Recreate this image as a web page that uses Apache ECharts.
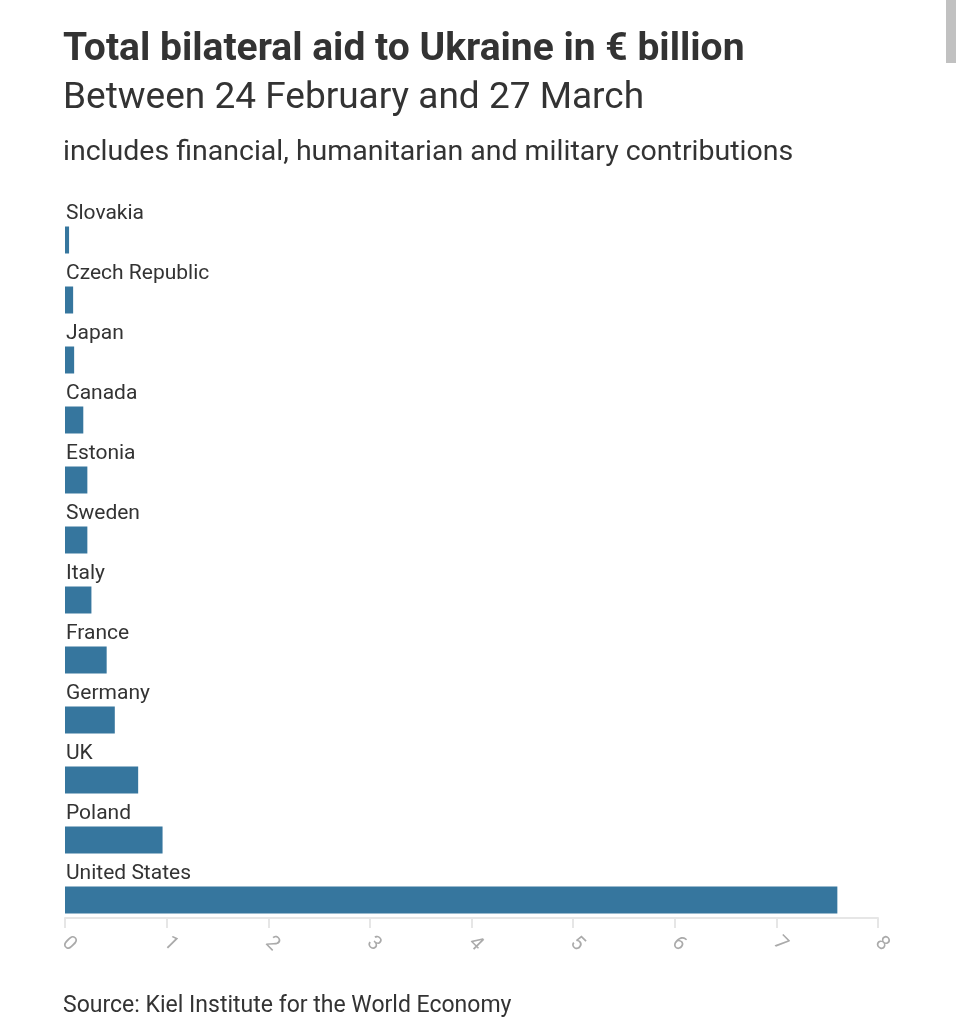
<!DOCTYPE html>
<html>
<head>
<meta charset="utf-8">
<script src="https://cdn.jsdelivr.net/npm/echarts@6/dist/echarts.min.js"></script>
<style>
  html, body { margin: 0; padding: 0; background: #fff; }
  #chart { width: 956px; height: 1024px; }
</style>
</head>
<body>
<div id="chart"></div>
<script>
// values in € billion, 24 Feb - 27 Mar
const countries = [
  'Slovakia',
  'Czech Republic',
  'Japan',
  'Canada',
  'Estonia',
  'Sweden',
  'Italy',
  'France',
  'Germany',
  'UK',
  'Poland',
  'United States',
]
const aid = [0.04, 0.08, 0.09, 0.18, 0.22, 0.22, 0.26, 0.41, 0.49, 0.72, 0.96, 7.6]
const xTicks = [0, 1, 2, 3, 4, 5, 6, 7, 8]

const font = 'Roboto'
const chart = echarts.init(document.getElementById('chart'))
const option = {
  backgroundColor: '#fff',
  animation: false,
  title: [
    {
      text: 'Total bilateral aid to Ukraine in € billion',
      left: 58,
      top: 26,
      textStyle: { fontFamily: font, fontSize: 39, fontWeight: 'bold', color: '#333' },
    },
    {
      text: 'Between 24 February and 27 March',
      left: 58,
      top: 75,
      textStyle: { fontFamily: font, fontSize: 37, fontWeight: 'normal', color: '#333' },
    },
    {
      text: 'includes financial, humanitarian and military contributions',
      left: 58,
      top: 133,
      textStyle: { fontFamily: font, fontSize: 28.5, fontWeight: 'normal', color: '#333' },
    },
    {
      text: 'Source: Kiel Institute for the World Economy',
      left: 58,
      top: 990,
      textStyle: { fontFamily: font, fontSize: 23, fontWeight: 'normal', color: '#333' },
    },
  ],
  graphic: [
    {
      type: 'rect',
      shape: { x: 946, y: 0, width: 10, height: 63 },
      style: { fill: '#c1c1c1' },
    },
  ],
  grid: {
    left: 65,
    right: 78,
    top: 210,
    bottom: 94,
  },
  xAxis: {
    type: 'value',
    min: 0,
    max: 8,
    interval: 1,
    offset: -12,
    splitLine: { show: false },
    axisLine: { show: true, lineStyle: { color: '#e6e6e6', width: 2 } },
    axisTick: { show: true, length: 10, lineStyle: { color: '#e6e6e6', width: 2 } },
    axisLabel: {
      rotate: -45,
      margin: 22,
      fontFamily: font,
      fontSize: 20,
      color: '#aaa',
      formatter: (v) => (xTicks.includes(v) ? String(v) : ''),
    },
  },
  yAxis: {
    type: 'category',
    inverse: true,
    data: countries,
    axisLine: { show: false },
    axisTick: { show: false },
    axisLabel: { show: false },
  },
  series: [
    {
      type: 'bar',
      data: aid,
      barWidth: 27,
      itemStyle: { color: '#36769e' },
      label: {
        show: true,
        position: [1, -2],
        verticalAlign: 'bottom',
        align: 'left',
        formatter: '{b}',
        fontFamily: font,
        fontSize: 21,
        color: '#333',
      },
    },
  ],
}
chart.setOption(option)
</script>
</body>
</html>
